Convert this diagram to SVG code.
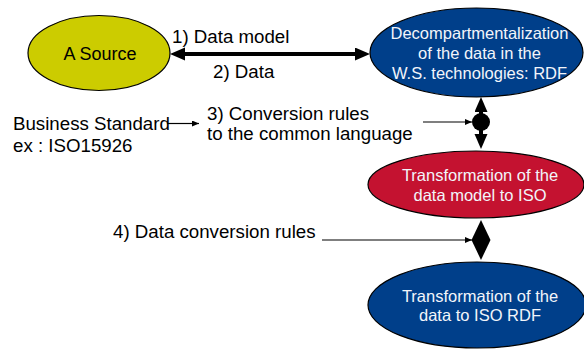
<svg xmlns="http://www.w3.org/2000/svg" width="584" height="349" viewBox="0 0 584 349">
<style>
  text { font-family: "Liberation Sans", Arial, sans-serif; }
  .lbl { font-size: 18.7px; fill: #000; }
  .in { font-size: 16.5px; fill: #F2F5FA; text-anchor: middle; }
  .src { font-size: 18px; fill: #000; text-anchor: middle; }
  .node { stroke: #000; stroke-width: 1.2; }
  .thick { stroke: #000; stroke-width: 4; fill: none; }
  .thin { stroke: #000; stroke-width: 1.2; fill: none; }
</style>
<defs>
  <marker id="bigHead" markerUnits="userSpaceOnUse" markerWidth="16" markerHeight="14" refX="3" refY="6.5" orient="auto-start-reverse" viewBox="0 0 16 14">
    <path d="M0,0 L15,6.5 L0,13 z" fill="#000"/>
  </marker>
  <marker id="smallHead" markerUnits="userSpaceOnUse" markerWidth="8" markerHeight="7" refX="7" refY="3" orient="auto" viewBox="0 0 8 7">
    <path d="M0,0 L7,3 L0,6 z" fill="#000"/>
  </marker>
</defs>

<g id="node-source">
  <ellipse class="node" cx="99" cy="53" rx="71" ry="37.5" fill="#CCCC00"/>
  <text class="src" x="100" y="59.5">A Source</text>
</g>

<g id="node-decomp">
  <ellipse class="node" cx="476.5" cy="52.5" rx="106.5" ry="44.5" fill="#003F8A"/>
  <text class="in" x="479.5" y="39">Decompartmentalization</text>
  <text class="in" x="479.5" y="59">of the data in the</text>
  <text class="in" x="479.5" y="79">W.S. technologies: RDF</text>
</g>

<g id="node-model-iso">
  <ellipse class="node" cx="476" cy="184.5" rx="108" ry="33.5" fill="#C41230"/>
  <text class="in" x="480" y="180.5">Transformation of the</text>
  <text class="in" x="480" y="200.5">data model to ISO</text>
</g>

<g id="node-data-iso">
  <ellipse class="node" cx="477" cy="305" rx="109" ry="43" fill="#003F8A"/>
  <text class="in" x="480" y="301.5">Transformation of the</text>
  <text class="in" x="480" y="320.5">data to ISO RDF</text>
</g>

<g id="labels">
  <text class="lbl" x="172" y="43">1) Data model</text>
  <text class="lbl" x="213" y="77.5">2) Data</text>
  <text class="lbl" x="13" y="130">Business Standard</text>
  <text class="lbl" x="13" y="152">ex : ISO15926</text>
  <text class="lbl" x="207" y="119.5">3) Conversion rules</text>
  <text class="lbl" x="207" y="140">to the common language</text>
  <text class="lbl" x="113" y="237.5">4) Data conversion rules</text>
</g>

<g id="connectors">
  <line class="thick" x1="182" y1="54" x2="358" y2="54" marker-start="url(#bigHead)" marker-end="url(#bigHead)"/>
  <line class="thin" x1="167" y1="123.5" x2="199" y2="123.5" marker-end="url(#smallHead)"/>
  <line class="thin" x1="423" y1="122" x2="472" y2="122" marker-end="url(#smallHead)"/>
  <line class="thick" x1="481" y1="109" x2="481" y2="137" marker-start="url(#bigHead)" marker-end="url(#bigHead)"/>
  <circle cx="481" cy="122" r="9" fill="#000"/>
  <line class="thin" x1="322" y1="240" x2="472" y2="240" marker-end="url(#smallHead)"/>
  <polygon points="481,220 490.5,240 481,260 471.5,240" fill="#000"/>
</g>
</svg>
